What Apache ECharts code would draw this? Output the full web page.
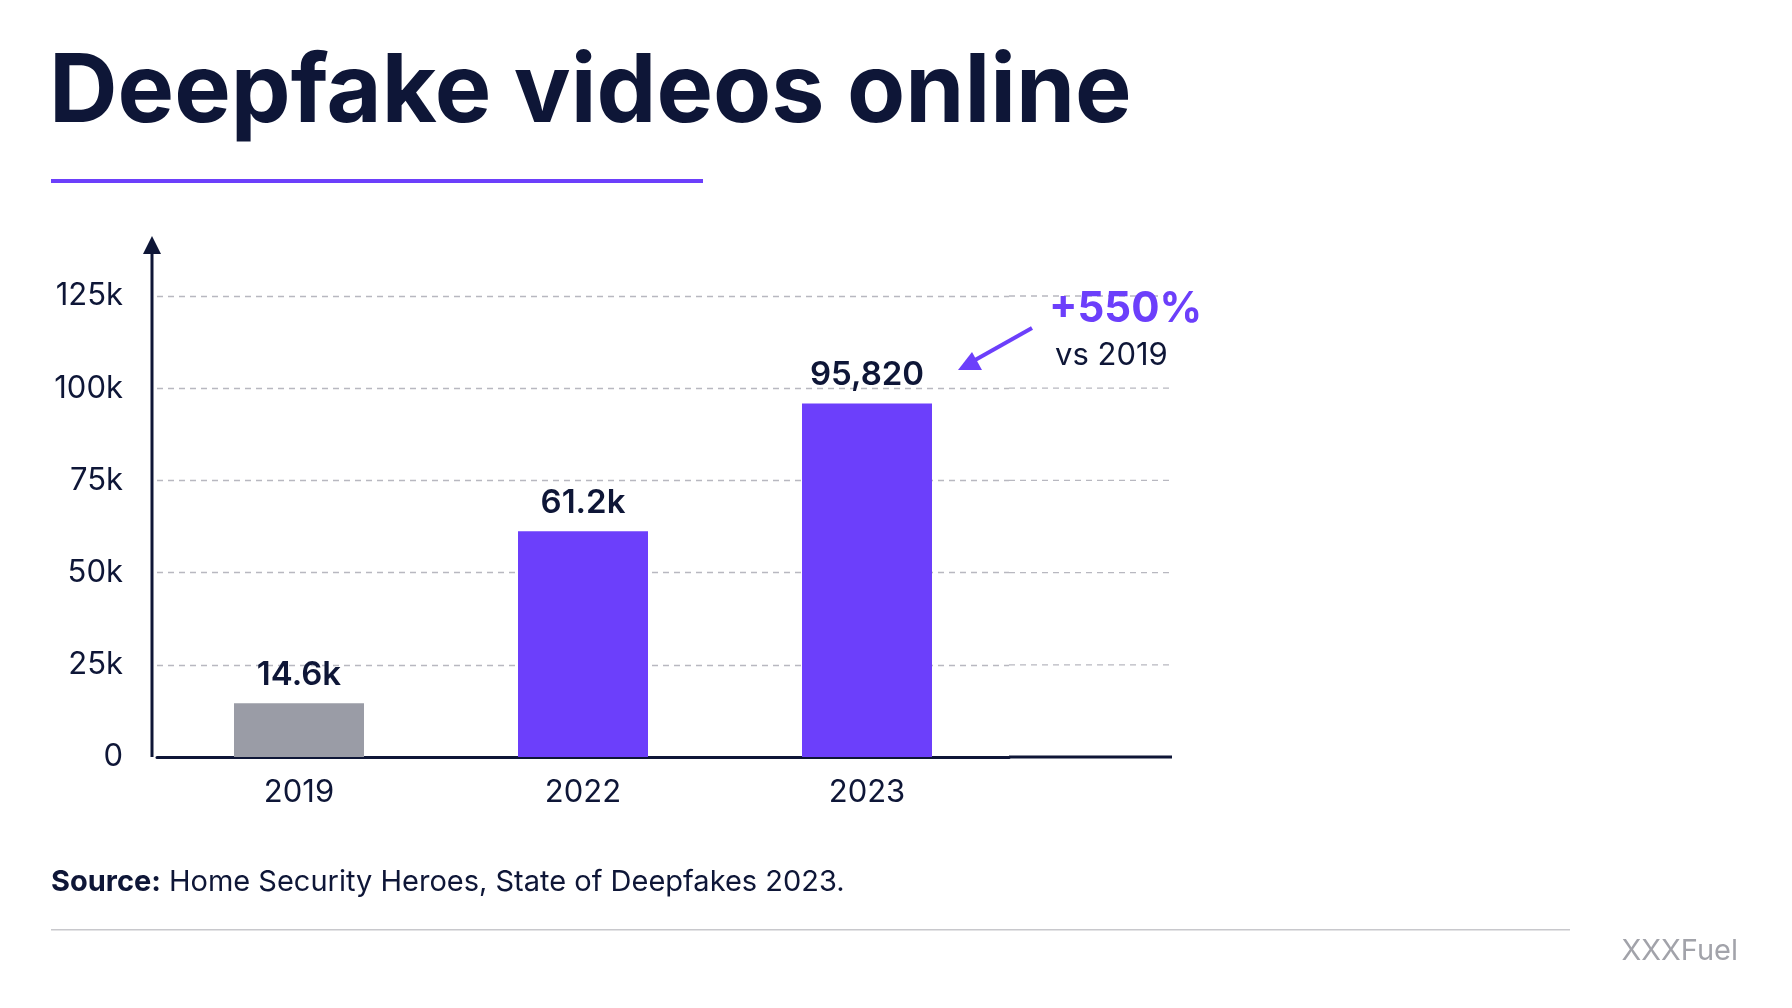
<!DOCTYPE html><html><head><meta charset="utf-8">
<script src="https://cdn.jsdelivr.net/npm/echarts@6/dist/echarts.min.js"></script>
<style>html,body{margin:0;background:#fff}#c{width:1792px;height:1008px}</style></head>
<body><div id="c"></div><script>
const categories=['2019','2022','2023'];
const values=[14600,61200,95820];
const labels=['14.6k','61.2k','95,820'];
const tickValues=[0,25000,50000,75000,100000,125000];
const tickLabels=['0','25k','50k','75k','100k','125k'];
const NAVY='#0e1637',PURPLE='#6c3ffb',GRAY='#9a9ca6';
const F='Inter, "Noto Sans", sans-serif';
const chart=echarts.init(document.getElementById('c'));
const gl=157,gr=1792-1009,gt=296,gb=1008-757;
chart.setOption({
 backgroundColor:'#fff',animation:false,
 grid:{left:gl,right:gr,top:gt,bottom:gb},
 xAxis:{type:'category',data:categories,axisTick:{show:false},
  axisLine:{lineStyle:{color:NAVY,width:3}},
  axisLabel:{color:NAVY,fontFamily:F,fontSize:31,margin:20}},
 yAxis:{type:'value',min:0,max:125000,interval:25000,
  axisLine:{show:false},axisTick:{show:false},
  axisLabel:{color:NAVY,fontFamily:F,fontSize:31,margin:34,formatter:v=>tickLabels[tickValues.indexOf(v)]},
  splitLine:{lineStyle:{color:'#b8b8c0',type:[6,5],width:1.3}}},
 series:[{type:'bar',barWidth:130,
  data:values.map((v,i)=>({value:v,itemStyle:{color:i===0?GRAY:PURPLE},
   label:{show:true,position:'top',distance:12,formatter:labels[i],color:NAVY,fontFamily:F,fontSize:33,fontWeight:600}}))}]
});
const g=[];
const xr=1792-gr, xEnd=1172;
tickValues.slice(1).forEach(v=>{const y=chart.convertToPixel({yAxisIndex:0},v);
 g.push({type:'line',shape:{x1:xr,y1:y,x2:xEnd,y2:y},style:{stroke:'#b8b8c0',lineWidth:1.3,lineDash:[6,5]}});});
g.push({type:'line',shape:{x1:xr,y1:757,x2:xEnd,y2:757},style:{stroke:NAVY,lineWidth:3}});
g.push({type:'line',shape:{x1:152,y1:757,x2:152,y2:245},style:{stroke:NAVY,lineWidth:3}});
g.push({type:'polygon',shape:{points:[[152,236],[143,254],[161,254]]},style:{fill:NAVY}});
g.push({type:'text',left:49,top:46,style:{text:'Deepfake videos online',fill:NAVY,font:'bold 95px '+F}});
g.push({type:'rect',shape:{x:51,y:179,width:652,height:4},style:{fill:PURPLE}});
g.push({type:'text',left:1049,top:288,style:{text:'+550%',fill:PURPLE,font:'bold 42px '+F}});
g.push({type:'text',left:1055,top:340,style:{text:'vs 2019',fill:NAVY,font:'31px '+F}});
g.push({type:'line',shape:{x1:1032,y1:328,x2:968,y2:364},style:{stroke:PURPLE,lineWidth:4}});
g.push({type:'polygon',shape:{points:[[958,370],[972,352],[982,370]]},style:{fill:PURPLE}});
g.push({type:'text',left:51,top:868,style:{rich:{b:{font:'bold 29px '+F,fill:NAVY},n:{font:'29px '+F,fill:NAVY,padding:[0,0,0,8]}},text:'{b|Source:}{n|Home Security Heroes, State of Deepfakes 2023.}'}});
g.push({type:'rect',shape:{x:51,y:929,width:1519,height:1.5},style:{fill:'#c8c8cc'}});
g.push({type:'text',right:54,top:937,style:{text:'XXXFuel',fill:'#a2a3aa',font:'29px '+F}});
chart.setOption({graphic:g});
</script></body></html>
